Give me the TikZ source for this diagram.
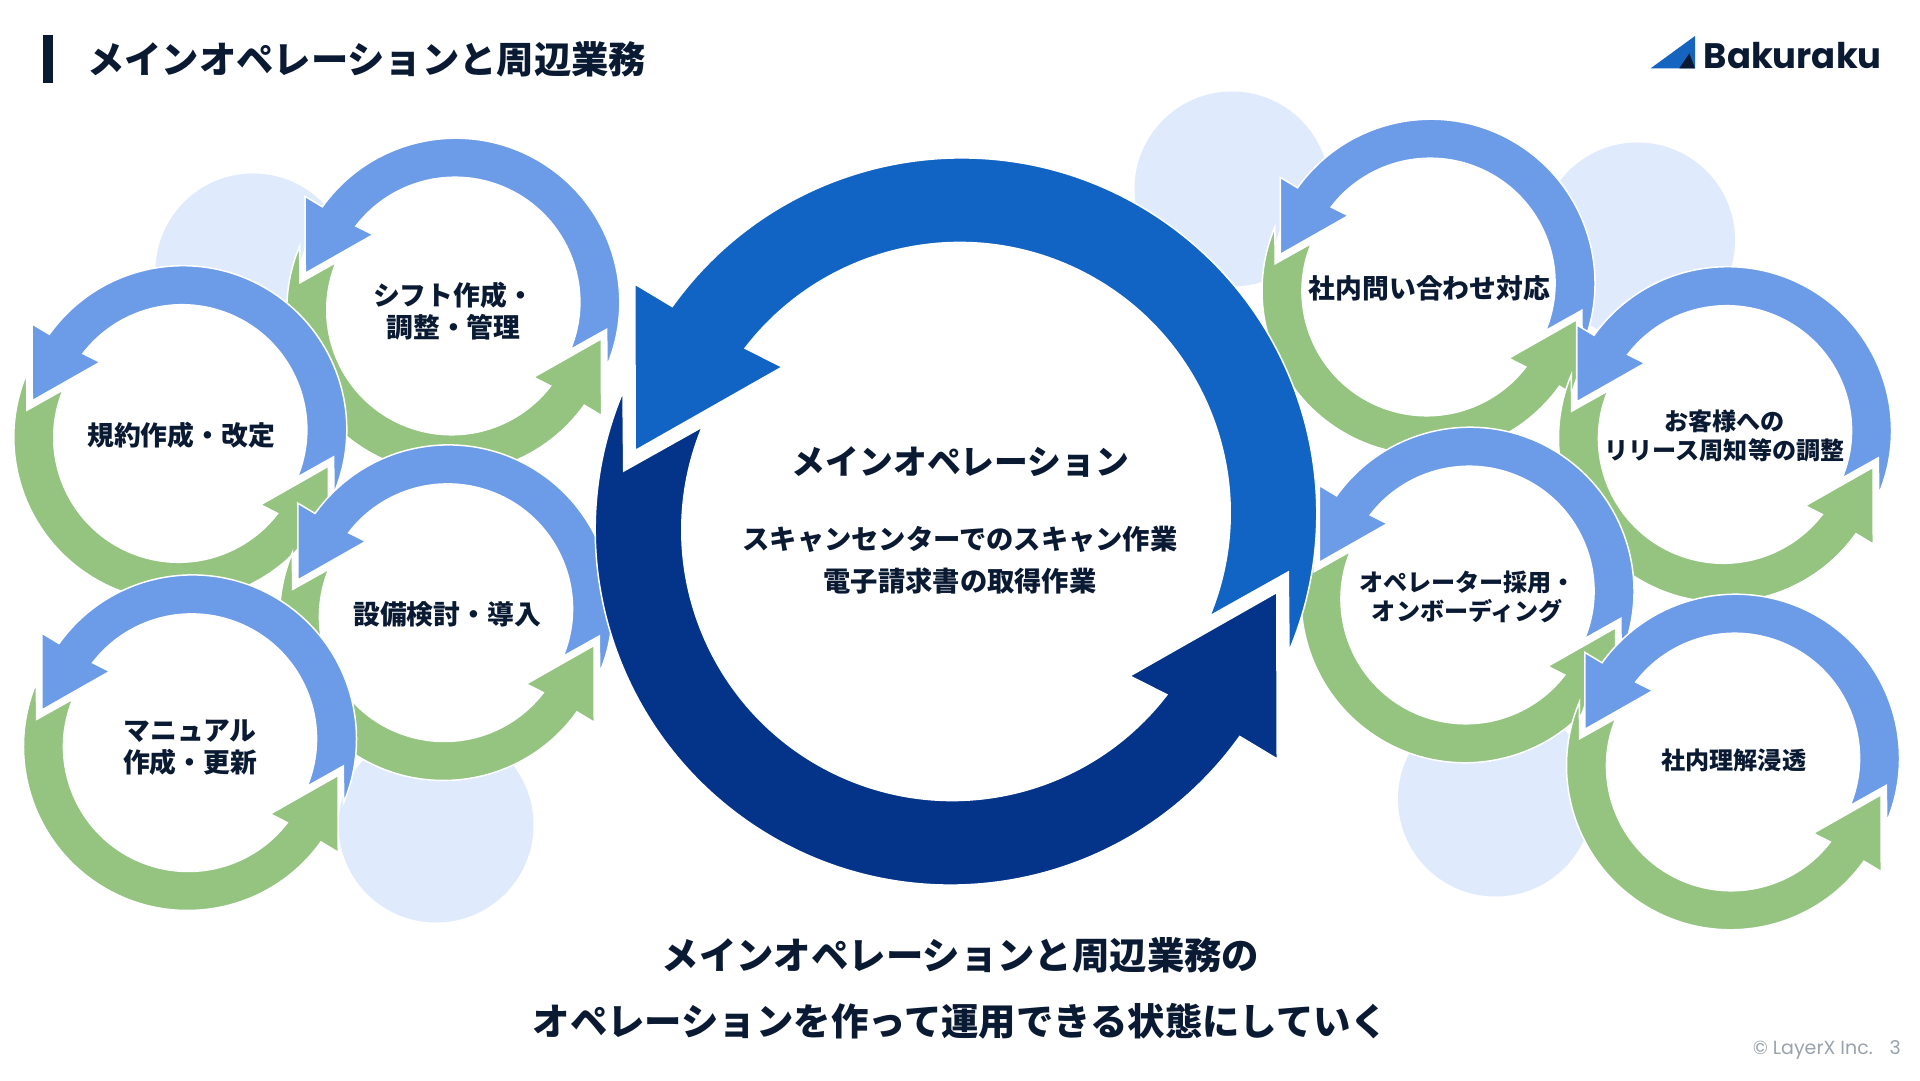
\documentclass[tikz,border=0pt]{standalone}
\usepackage{fontspec}
\setmainfont{Noto Sans CJK JP}
\newfontfamily\latinfont{Poppins}
\definecolor{inkc}{HTML}{0A1A33}
\definecolor{mainblue}{HTML}{1264C4}
\definecolor{maindark}{HTML}{03348A}
\definecolor{subblue}{HTML}{6C9BE8}
\definecolor{subgreen}{HTML}{95C481}
\definecolor{lightc}{HTML}{DFEBFC}
\definecolor{logoblue}{HTML}{1565C0}
\definecolor{greyc}{HTML}{9AA3AD}
\tikzset{
  cyclepart/.style={draw=white,line width=1.5pt,line join=miter},
  bubble/.style={circle,fill=lightc,draw=none,inner sep=0pt,minimum size=195pt},
  sublabel/.style={font=\bfseries\fontsize{26.8}{32}\selectfont,text=inkc,align=center,inner sep=0pt},
  sublabelsmall/.style={font=\bfseries\fontsize{24.1}{29}\selectfont,text=inkc,align=center,inner sep=0pt},
  headline/.style={font=\bfseries\fontsize{37.4}{66}\selectfont,text=inkc,align=center,inner sep=0pt},
  maintitle/.style={font=\bfseries\fontsize{33.8}{40}\selectfont,text=inkc,inner sep=0pt},
  maintext/.style={font=\bfseries\fontsize{27.3}{42}\selectfont,text=inkc,align=center,inner sep=0pt},
  footer/.style={font=\latinfont\fontsize{19}{20}\selectfont,text=greyc,inner sep=0pt,anchor=base east}
}
\newcommand{\arrowband}[1]{%
  \fill[cyclepart,fill=#1]
    (-326.5,229.5) -- (-289,207)
    arc[start angle=144.4,end angle=-22.8,radius=355.5]
    -- (327,-58.5) -- (248.5,-102.5)
    arc[start angle=-22.4,end angle=142.5,radius=270.5]
    -- (-179,146.5) -- (-326,63) -- cycle;%
}
% #1 x, #2 y (from the top), #3 scale, #4 upper colour, #5 lower colour
\newcommand{\cyclepair}[5]{%
  \begin{scope}[shift={(#1,{1080-#2})},scale=#3]
    \fill[white] (0,0) circle[radius=345];
    \begin{scope}[shift={(-5.25,-8)},rotate=180]\arrowband{#5}\end{scope}
    \begin{scope}[shift={(5.25,8)}]\arrowband{#4}\end{scope}
  \end{scope}%
}
\begin{document}
\begin{tikzpicture}[x=1pt,y=1pt]
\useasboundingbox (0,0) rectangle (1920,1080);
\fill[white] (0,0) rectangle (1920,1080);
% pale circles
\node[bubble] (c1) at (253,{1080-271}) {};
\node[bubble] (c2) at (1232,{1080-189}) {};
\node[bubble] (c3) at (1637.5,{1080-240}) {};
\node[bubble] (c4) at (436,{1080-825}) {};
\node[bubble] (c5) at (1495.5,{1080-799}) {};
% small cycles, left
\cyclepair{453.3}{306}{0.4615}{subblue}{subgreen}
\cyclepair{180.3}{433.5}{0.4615}{subblue}{subgreen}
\cyclepair{446}{612.7}{0.4615}{subblue}{subgreen}
\cyclepair{190}{742.7}{0.4615}{subblue}{subgreen}
% small cycles, right
\cyclepair{1428.5}{287}{0.4615}{subblue}{subgreen}
\cyclepair{1725}{434.5}{0.4615}{subblue}{subgreen}
\cyclepair{1467.5}{595}{0.4615}{subblue}{subgreen}
\cyclepair{1733}{762}{0.4615}{subblue}{subgreen}
% main cycle
\cyclepair{956}{521.5}{1}{mainblue}{maindark}
% heading
\fill[inkc] (42.7,{1080-34.7}) rectangle (53.3,{1080-82.7});
\node[font=\bfseries\fontsize{37.3}{44}\selectfont,text=inkc,inner sep=0pt,anchor=west] (title) at (87,{1080-59}) {メインオペレーションと周辺業務};
% logo
\fill[logoblue] (1695,{1080-36}) -- (1650.7,{1080-68.3}) -- (1695,{1080-68.3}) -- cycle;
\fill[inkc] (1689.3,{1080-53.3}) -- (1679.3,{1080-68.3}) -- (1695,{1080-68.3}) -- cycle;
\node[font=\latinfont\bfseries\fontsize{35.4}{40}\selectfont,text=inkc,inner sep=0pt,anchor=base west] (logo) at (1703.5,{1080-68.3}) {Bakuraku};
% labels
\node[sublabel] (l1) at (453.5,{1080-311.5}) {シフト作成・\\調整・管理};
\node[sublabel] (l2) at (181,{1080-435.5}) {規約作成・改定};
\node[sublabel] (l3) at (447,{1080-614}) {設備検討・導入};
\node[sublabel] (l4) at (190,{1080-748}) {マニュアル\\作成・更新};
\node[sublabel] (r1) at (1429.5,{1080-288.5}) {社内問い合わせ対応};
\node[sublabelsmall] (r2) at (1724.5,{1080-436}) {お客様への\\リリース周知等の調整};
\node[sublabelsmall] (r3) at (1467.5,{1080-597}) {オペレーター採用・\\オンボーディング};
\node[sublabelsmall] (r4) at (1733.8,{1080-760}) {社内理解浸透};
% main cycle text
\node[maintitle] (m1) at (960.6,{1080-462}) {メインオペレーション};
\node[maintext] (m2) at (960,{1080-560.5}) {スキャンセンターでのスキャン作業\\電子請求書の取得作業};
% bottom line
\node[headline] (b1) at (960.5,{1080-988.5}) {メインオペレーションと周辺業務の\\オペレーションを作って運用できる状態にしていく};
% footer
\node[footer] (f1) at (1873,{1080-1054}) {© LayerX Inc.};
\node[footer] (f2) at (1901,{1080-1054}) {3};
\end{tikzpicture}
\end{document}
